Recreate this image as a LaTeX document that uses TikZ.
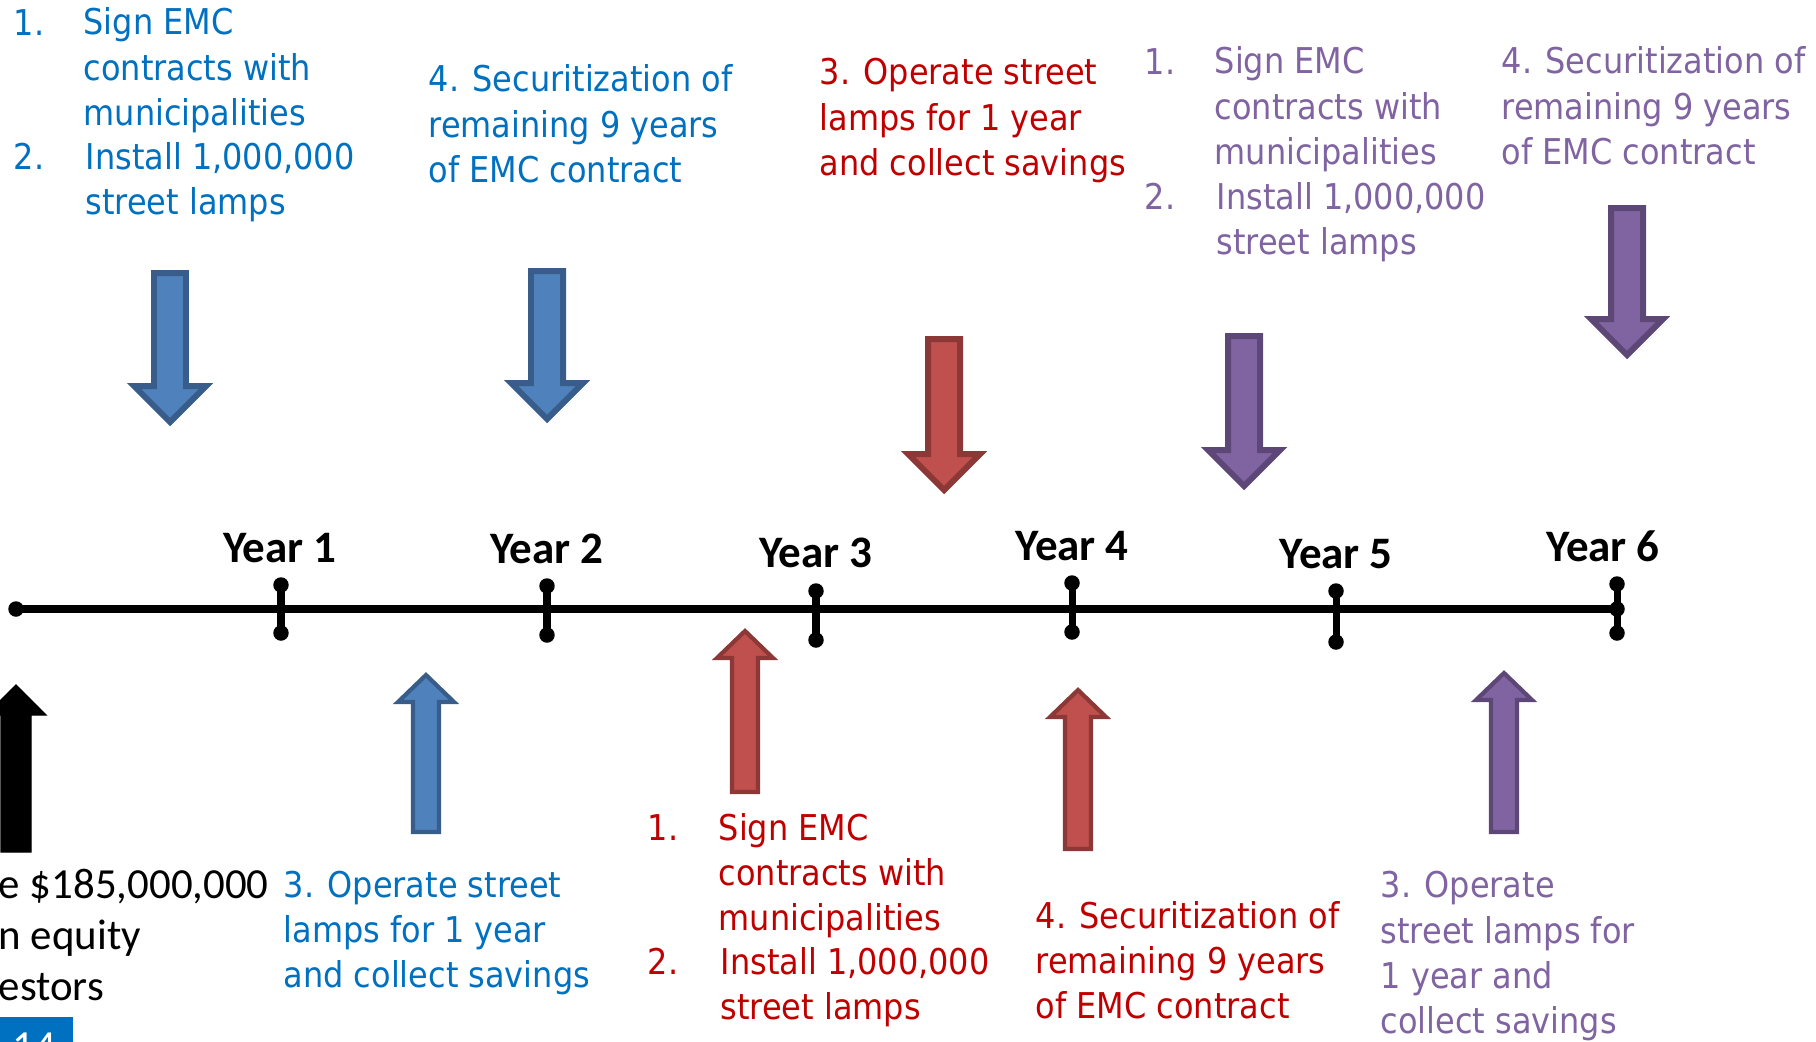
\documentclass[tikz,border=0pt]{standalone}
\usepackage{fontspec}
\setmainfont{Carlito}
\newfontfamily\tahomafont{DejaVu Sans Condensed}
\usetikzlibrary{positioning}
\definecolor{textblue}{HTML}{0070C0}
\definecolor{textred}{HTML}{C00000}
\definecolor{textpurple}{HTML}{8064A2}
\definecolor{fillblue}{HTML}{4F81BD}
\definecolor{lineblue}{HTML}{385D8A}
\definecolor{fillred}{HTML}{C0504D}
\definecolor{linered}{HTML}{8C3836}
\definecolor{fillpurple}{HTML}{8064A2}
\definecolor{linepurple}{HTML}{5C4776}
\tikzset{
	steptext/.style={
		anchor=base west,
		inner sep=0pt,
		align=left,
		font=\tahomafont\fontsize{10.1pt}{12.8pt}\selectfont,
	},
	bluetext/.style={steptext, text=textblue},
	redtext/.style={steptext, text=textred},
	purpletext/.style={steptext, text=textpurple},
	blacktext/.style={
		anchor=base west,
		inner sep=0pt,
		align=left,
		font=\fontsize{12.2pt}{14.5pt}\selectfont,
	},
	yearlabel/.style={
		anchor=base,
		inner sep=0pt,
		font=\bfseries\fontsize{12.8pt}{14pt}\selectfont,
	},
	timeline/.style={line width=2.3pt},
	tickline/.style={line width=2pt},
	downarrow/.style={line width=1.7pt, line join=miter},
	uparrow/.style={line width=1.2pt, line join=miter},
	bluedown/.style={downarrow, fill=fillblue, draw=lineblue},
	reddown/.style={downarrow, fill=fillred, draw=linered},
	purpledown/.style={downarrow, fill=fillpurple, draw=linepurple},
	blueup/.style={uparrow, fill=fillblue, draw=lineblue},
	redup/.style={uparrow, fill=fillred, draw=linered},
	purpleup/.style={uparrow, fill=fillpurple, draw=linepurple},
	blackup/.style={fill=black},
}

\begin{document}
\begin{tikzpicture}[x=0.01cm, y=-0.01cm]
		% style, centre x, start y, tip y, half shaft, half head, head height
		\newcommand{\blockarrow}[7]{%
			\draw[#1] ({#2-#5},#3) -- ({#2+#5},#3) -- ({#2+#5},{#4-#7})
				-- ({#2+#6},{#4-#7}) -- (#2,#4) -- ({#2-#6},{#4-#7})
				-- ({#2-#5},{#4-#7}) -- cycle ;}
		\newcommand{\dotr}{2.2pt}

		\useasboundingbox (0,0) rectangle (1816,1041) ;
		\clip (0,0) rectangle (1816,1041) ;

		% Time line
		\coordinate (start) at (16,609) ;
		\coordinate (end) at (1617,609) ;
		\draw[timeline] (start) -- (end) ;
		\fill (start) circle[radius=\dotr] ;
		\fill (end) circle[radius=\dotr] ;

		% Year ticks
		\coordinate (t1a) at (281,585) ; \coordinate (t1b) at (281,633) ;
		\coordinate (t2a) at (547,586) ; \coordinate (t2b) at (547,635) ;
		\coordinate (t3a) at (816,591) ; \coordinate (t3b) at (816,640) ;
		\coordinate (t4a) at (1072,583) ; \coordinate (t4b) at (1072,632) ;
		\coordinate (t5a) at (1336,591) ; \coordinate (t5b) at (1336,642) ;
		\coordinate (t6a) at (1617,584) ; \coordinate (t6b) at (1617,633) ;

		\draw[tickline] (t1a) -- (t1b) ;
		\draw[tickline] (t2a) -- (t2b) ;
		\draw[tickline] (t3a) -- (t3b) ;
		\draw[tickline] (t4a) -- (t4b) ;
		\draw[tickline] (t5a) -- (t5b) ;
		\draw[tickline] (t6a) -- (t6b) ;

		\fill (t1a) circle[radius=\dotr] ; \fill (t1b) circle[radius=\dotr] ;
		\fill (t2a) circle[radius=\dotr] ; \fill (t2b) circle[radius=\dotr] ;
		\fill (t3a) circle[radius=\dotr] ; \fill (t3b) circle[radius=\dotr] ;
		\fill (t4a) circle[radius=\dotr] ; \fill (t4b) circle[radius=\dotr] ;
		\fill (t5a) circle[radius=\dotr] ; \fill (t5b) circle[radius=\dotr] ;
		\fill (t6a) circle[radius=\dotr] ; \fill (t6b) circle[radius=\dotr] ;

		% Year labels
		\node[yearlabel] (year1) at (280,562) {Year 1} ;
		\node[yearlabel] (year2) at (547,563) {Year 2} ;
		\node[yearlabel] (year3) at (816,567) {Year 3} ;
		\node[yearlabel] (year4) at (1072,560) {Year 4} ;
		\node[yearlabel] (year5) at (1336,568) {Year 5} ;
		\node[yearlabel] (year6) at (1603,561) {Year 6} ;

		% Arrows above the line
		\blockarrow{bluedown}{170}{273}{422}{16}{36}{36}
		\blockarrow{bluedown}{547}{271}{419}{16}{36}{36}
		\blockarrow{reddown}{944}{339}{490}{16}{36}{36}
		\blockarrow{purpledown}{1244}{336}{486}{16}{36}{36}
		\blockarrow{purpledown}{1627}{208}{355}{16}{36}{36}

		% Arrows below the line
		\blockarrow{blackup}{16}{852}{685}{15}{30}{-30}
		\blockarrow{blueup}{426}{832}{675}{13}{28}{-27}
		\blockarrow{redup}{745}{792}{631}{13}{28}{-27}
		\blockarrow{redup}{1078}{849}{690}{13}{28}{-27}
		\blockarrow{purpleup}{1504}{832}{673}{13}{28}{-27}

		% First round (blue), placed by the baseline of the last line
		\node[bluetext] (b1num) at (13,35) {1.} ;
		\node[bluetext] (b1sign) at (83,125) {Sign EMC\\contracts with\\municipalities} ;
		\node[bluetext] (b2num) at (13,169) {2.} ;
		\node[bluetext] (b2lamps) at (85,214) {Install 1,000,000\\street lamps} ;
		\node[bluetext] (b3operate) at (283,987) {3. Operate street\\lamps for 1 year\\and collect savings} ;
		\node[bluetext] (b4secure) at (428,182) {4. Securitization of\\remaining 9 years\\of EMC contract} ;

		% Second round (red)
		\node[redtext] (r1num) at (647,840) {1.} ;
		\node[redtext] (r1sign) at (718,930) {Sign EMC\\contracts with\\municipalities} ;
		\node[redtext] (r2num) at (647,974) {2.} ;
		\node[redtext] (r2lamps) at (720,1019) {Install 1,000,000\\street lamps} ;
		\node[redtext] (r3operate) at (819,175) {3. Operate street\\lamps for 1 year\\and collect savings} ;
		\node[redtext] (r4secure) at (1035,1018) {4. Securitization of\\remaining 9 years\\of EMC contract} ;

		% Third round (purple)
		\node[purpletext] (p1num) at (1144,74) {1.} ;
		\node[purpletext] (p1sign) at (1214,164) {Sign EMC\\contracts with\\municipalities} ;
		\node[purpletext] (p2num) at (1144,209) {2.} ;
		\node[purpletext] (p2lamps) at (1216,254) {Install 1,000,000\\street lamps} ;
		\node[purpletext] (p3operate) at (1380,1033) {3. Operate\\street lamps for\\1 year and\\collect savings} ;
		\node[purpletext] (p4secure) at (1501,164) {4. Securitization of\\remaining 9 years\\of EMC contract} ;

		% Equity raise
		\node[blacktext] (equity) at (-2,1000) {e \$185,000,000\\n equity\\estors} ;

		% Slide number
		\fill[textblue] (0,1017) rectangle (73,1050) ;
		\node[blacktext, text=white] (slidenum) at (12,1060) {14} ;

	\end{tikzpicture}
\end{document}
